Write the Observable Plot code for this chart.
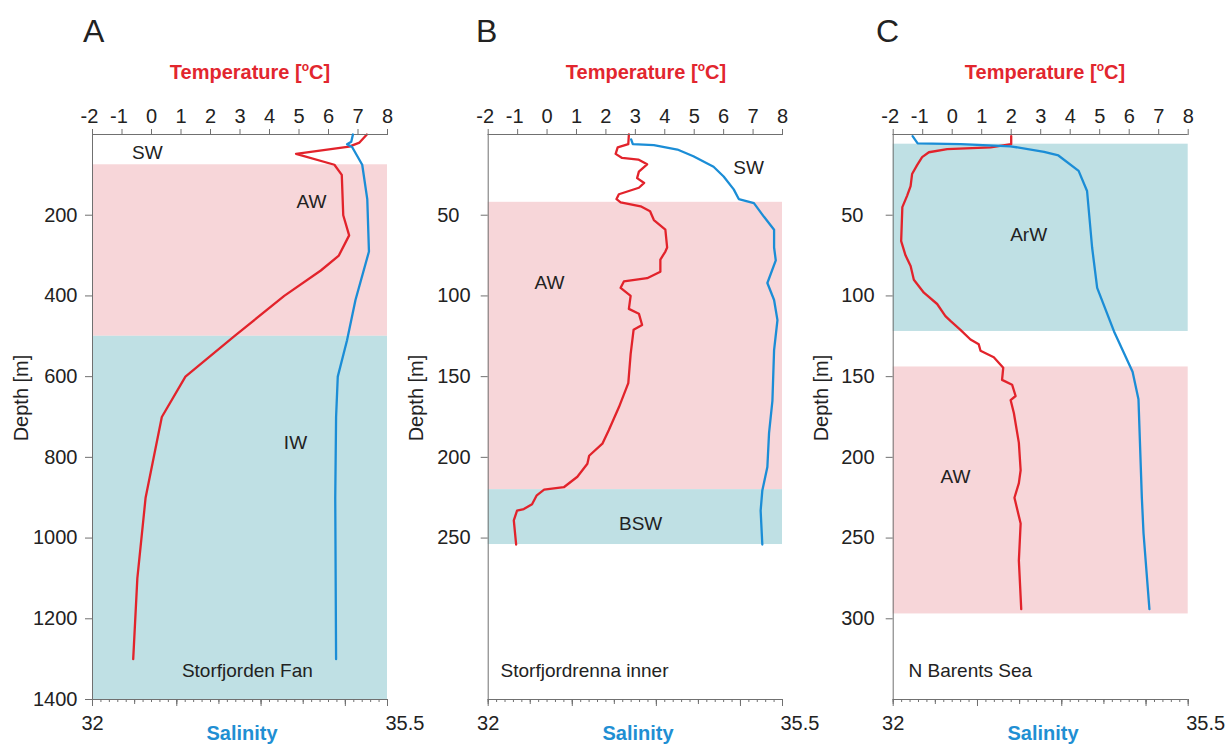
<!DOCTYPE html>
<html>
<head>
<meta charset="utf-8">
<script src="https://cdn.jsdelivr.net/npm/d3@7"></script>
<script src="https://cdn.jsdelivr.net/npm/@observablehq/plot@0.6"></script>
<style>
  html, body { margin: 0; padding: 0; background: #fff; }
  #root { position: relative; width: 1225px; height: 744px; overflow: hidden; background: #fff;
          font-family: "Liberation Sans", Arial, Helvetica, sans-serif; color: #222; }
  #root svg { position: absolute; left: 0; top: 0; }
  .lbl { position: absolute; white-space: nowrap; line-height: 1; }
  .letter { font-size: 32px; color: #222; }
  .ttl { font-size: 20px; font-weight: bold; color: #e2262e; width: 300px; text-align: center; }
  .ttl sup { font-size: 12px; vertical-align: 0; position: relative; top: -8px; }
  .sal { font-size: 20px; font-weight: bold; color: #1f8fd3; width: 200px; text-align: center; }
  .dep { font-size: 20px; width: 120px; height: 24px; line-height: 24px; text-align: center; transform: rotate(-90deg); }
</style>
</head>
<body>
<div id="root"></div>
<script>
// ---------------- DATA ----------------
const panelLetters = ["A", "B", "C"];
const stationNames = ["Storfjorden Fan", "Storfjordrenna inner", "N Barents Sea"];
const tempTicks = [-2, -1, 0, 1, 2, 3, 4, 5, 6, 7, 8];
const salinityLabels = [32, 35.5];
const depthTicksA = [200, 400, 600, 800, 1000, 1200, 1400];
const depthTicksB = [50, 100, 150, 200, 250];
const depthTicksC = [50, 100, 150, 200, 250, 300];

// water-mass bands: depth ranges [m]
const bandsA = [{water: "AW", top: 75, bottom: 500}, {water: "IW", top: 500, bottom: 1400}];
const bandsB = [{water: "AW", top: 42, bottom: 220}, {water: "BSW", top: 220, bottom: 254}];
const bandsC = [{water: "ArW", top: 6, bottom: 122}, {water: "AW", top: 144, bottom: 297}];

// profiles: [depth m, value]
const tempA = [[0,7.3],[20,7.05],[30,6.7],[48,4.9],[75,6.2],[100,6.45],[200,6.5],[250,6.7],[300,6.35],[337,5.74],[400,4.5],[500,2.8],[600,1.15],[700,0.35],[900,-0.2],[1100,-0.48],[1300,-0.62]];
const salA = [[0,35.09],[18,35.07],[24,35.02],[31,35.08],[75,35.2],[160,35.26],[290,35.28],[410,35.12],[510,35.02],[600,34.91],[700,34.89],[900,34.88],[1300,34.89]];

const tempB = [[0,2.78],[6,2.76],[8,2.4],[12,2.33],[14.5,2.55],[15.5,3.1],[18.5,3.4],[23,3.12],[27,3.06],[30,3.3],[33,3.12],[37,2.44],[40,2.36],[42,2.5],[44.5,3.18],[47.5,3.5],[53,3.63],[59,4.02],[70,4.08],[72.5,4.02],[77.5,3.85],[85,3.85],[89,3.4],[91,2.61],[95,2.5],[100,2.84],[108,2.78],[111,3.12],[118,3.23],[121,2.94],[136,2.84],[154,2.76],[169,2.44],[183,2.1],[191.5,1.88],[199,1.43],[204,1.37],[212,1.03],[218.5,0.57],[220,-0.1],[223.5,-0.35],[229,-0.51],[232,-0.79],[233,-1.02],[239,-1.13],[254,-1.05]];
const salB = [[3,33.7],[6,33.72],[6.6,33.97],[9.3,34.25],[13.5,34.44],[20,34.68],[26,34.8],[34,34.92],[40,34.98],[42.5,35.16],[51,35.28],[59,35.4],[70,35.4],[78,35.42],[92,35.32],[102.5,35.4],[115,35.44],[133.5,35.4],[165,35.38],[185,35.34],[206,35.32],[220.5,35.26],[233,35.24],[254,35.26]];

const tempC = [[1,2.0],[6,2.0],[8,1.3],[9,-0.17],[11,-0.79],[14,-1.02],[19,-1.19],[24.5,-1.36],[32,-1.41],[38,-1.53],[45,-1.69],[66,-1.73],[75,-1.58],[81.5,-1.41],[90,-1.3],[98,-0.96],[105,-0.51],[112.5,-0.23],[115.5,-0.06],[121,0.28],[127,0.62],[130,0.9],[134,0.96],[138,1.41],[144.5,1.73],[152,1.69],[155,2.03],[162,2.15],[164.5,1.98],[172.5,2.09],[191,2.26],[208,2.32],[216,2.26],[225,2.11],[241,2.32],[264,2.26],[294,2.34]];
const salC = [[1,32.23],[5.5,32.29],[6,32.8],[7.3,33.39],[10.7,33.79],[13,33.96],[22.5,34.2],[35,34.3],[70,34.36],[95,34.42],[122,34.62],[147,34.84],[164,34.91],[225,34.95],[247,34.97],[294,35.04]];

// ---------------- STYLE / LAYOUT ----------------
const W = 1225, H = 744, TOP = 134, BOTTOM = 699;
const FONT = '"Liberation Sans", Arial, Helvetica, sans-serif';
const RED = "#e2232b", BLUE = "#1b8dd6", PINK = "#f7d6d9", TEAL = "#bfe0e4", AXIS = "#707070", INK = "#222";
const TICK_FS = 20, NOTE_FS = 19, LINE_W = 2.3;

const panels = [
  {letter: panelLetters[0], station: stationNames[0], left: 92, right: 387, maxDepth: 1400, depthTicks: depthTicksA,
   bands: bandsA, temp: tempA, sal: salA, depthAnchor: "end", depthDx: -15,
   notes: [{t: -0.14, d: 45, anchor: "middle"}, {t: 5.42, d: 168, anchor: "middle"}, {t: 4.88, d: 763, anchor: "middle"}, {t: 3.25, d: 1328, anchor: "middle", station: true}],
   noteText: ["SW", "AW", "IW"],
   letterX: 83, titleX: 250, salX: 242, depX: 21},
  {letter: panelLetters[1], station: stationNames[1], left: 487.7, right: 782, maxDepth: 350, depthTicks: depthTicksB,
   bands: bandsB, temp: tempB, sal: salB, depthAnchor: "start", depthDx: -51,
   notes: [{t: 6.85, d: 20.5, anchor: "middle"}, {t: 0.08, d: 92, anchor: "middle"}, {t: 3.18, d: 241, anchor: "middle"}, {t: -1.58, d: 332, anchor: "start", station: true}],
   noteText: ["SW", "AW", "BSW"],
   letterX: 476, titleX: 646, salX: 638, depX: 416},
  {letter: panelLetters[2], station: stationNames[2], left: 892.7, right: 1187.7, maxDepth: 350, depthTicks: depthTicksC,
   bands: bandsC, temp: tempC, sal: salC, depthAnchor: "start", depthDx: -52,
   notes: [{t: 2.59, d: 62, anchor: "middle"}, {t: 0.11, d: 212, anchor: "middle"}, {t: -1.48, d: 332, anchor: "start", station: true}],
   noteText: ["ArW", "AW"],
   letterX: 876, titleX: 1045, salX: 1043, depX: 821}
];

const root = document.getElementById("root");

function addLabel(cls, html, left, top) {
  const el = document.createElement("div");
  el.className = "lbl " + cls;
  el.innerHTML = html;
  el.style.left = left + "px";
  el.style.top = top + "px";
  root.appendChild(el);
}

const minorSal = d3.range(320, 356).map(v => v / 10);
const halfSal = d3.range(64, 72).map(v => v / 2);
const majorSal = [32, 33, 34, 35, 35.5];

for (const p of panels) {
  const frame = {
    width: W, height: H,
    marginLeft: p.left, marginRight: W - p.right, marginTop: TOP, marginBottom: H - BOTTOM,
    style: {fontFamily: FONT, fontSize: "19px", background: "transparent", color: INK, overflow: "visible"}
  };
  const yScale = {domain: [0, p.maxDepth], reverse: true};
  const notes = p.notes.map((n, i) => ({...n, text: n.station ? p.station : p.noteText[i]}));

  const tPlot = Plot.plot({
    ...frame,
    x: {domain: [-2, 8]},
    y: yScale,
    marks: [
      Plot.rect(p.bands.filter(b => b.water === "AW"), {x1: -2, x2: 8, y1: "top", y2: "bottom", fill: PINK}),
      Plot.rect(p.bands.filter(b => b.water !== "AW"), {x1: -2, x2: 8, y1: "top", y2: "bottom", fill: TEAL}),
      Plot.text(notes.filter(n => n.anchor === "middle"), {x: "t", y: "d", text: "text", fontSize: NOTE_FS, fill: INK, textAnchor: "middle"}),
      Plot.text(notes.filter(n => n.anchor === "start"), {x: "t", y: "d", text: "text", fontSize: NOTE_FS, fill: INK, textAnchor: "start"}),
      Plot.line(p.temp, {x: d => d[1], y: d => d[0], stroke: RED, strokeWidth: LINE_W}),
      Plot.ruleX([-2], {stroke: AXIS, strokeWidth: 1}),
      Plot.ruleY([0], {stroke: AXIS, strokeWidth: 1}),
      Plot.axisX({anchor: "top", ticks: tempTicks, tickSize: 6, tickFormat: () => "", label: null, stroke: AXIS}),
      Plot.text(tempTicks.filter(v => v >= 0), {x: d => d, frameAnchor: "top", text: d => String(d), lineAnchor: "bottom", dy: -12, fontSize: TICK_FS, fill: INK}),
      Plot.text(tempTicks.filter(v => v < 0), {x: d => d, frameAnchor: "top", text: d => String(d), lineAnchor: "bottom", dy: -12, dx: -3, fontSize: TICK_FS, fill: INK}),
      Plot.axisY({anchor: "left", ticks: p.depthTicks, tickSize: 7, tickFormat: () => "", label: null, stroke: AXIS}),
      Plot.text(p.depthTicks, {y: d => d, frameAnchor: "left", text: d => String(d), textAnchor: p.depthAnchor, dx: p.depthDx, fontSize: TICK_FS, fill: INK})
    ]
  });
  tPlot.style.background = "transparent";
  root.appendChild(tPlot);

  const sPlot = Plot.plot({
    ...frame,
    x: {domain: [32, 35.5]},
    y: {...yScale, axis: null},
    marks: [
      Plot.line(p.sal, {x: d => d[1], y: d => d[0], stroke: BLUE, strokeWidth: LINE_W}),
      Plot.ruleY([p.maxDepth], {stroke: AXIS, strokeWidth: 1}),
      Plot.axisX({anchor: "bottom", ticks: minorSal, tickSize: 3, tickFormat: () => "", label: null, stroke: AXIS}),
      Plot.axisX({anchor: "bottom", ticks: halfSal, tickSize: 5, tickFormat: () => "", label: null, stroke: AXIS}),
      Plot.axisX({anchor: "bottom", ticks: majorSal, tickSize: 7, tickFormat: () => "", label: null, stroke: AXIS}),
      Plot.text(salinityLabels.slice(0, 1), {x: d => d, frameAnchor: "bottom", text: d => String(d), lineAnchor: "top", dy: 16, fontSize: TICK_FS, fill: INK, textAnchor: "middle"}),
      Plot.text(salinityLabels.slice(1), {x: d => d, frameAnchor: "bottom", text: d => String(d), lineAnchor: "top", dy: 16, dx: -2, fontSize: TICK_FS, fill: INK, textAnchor: "start"})
    ]
  });
  sPlot.style.background = "transparent";
  root.appendChild(sPlot);

  // titles & labels (real text)
  addLabel("letter", p.letter, p.letterX, 15);
  addLabel("ttl", 'Temperature [<sup>o</sup>C]', p.titleX - 150, 62);
  addLabel("sal", "Salinity", p.salX - 100, 723);
  addLabel("dep", "Depth [m]", p.depX - 60, 398 - 12);
}
</script>
</body>
</html>
